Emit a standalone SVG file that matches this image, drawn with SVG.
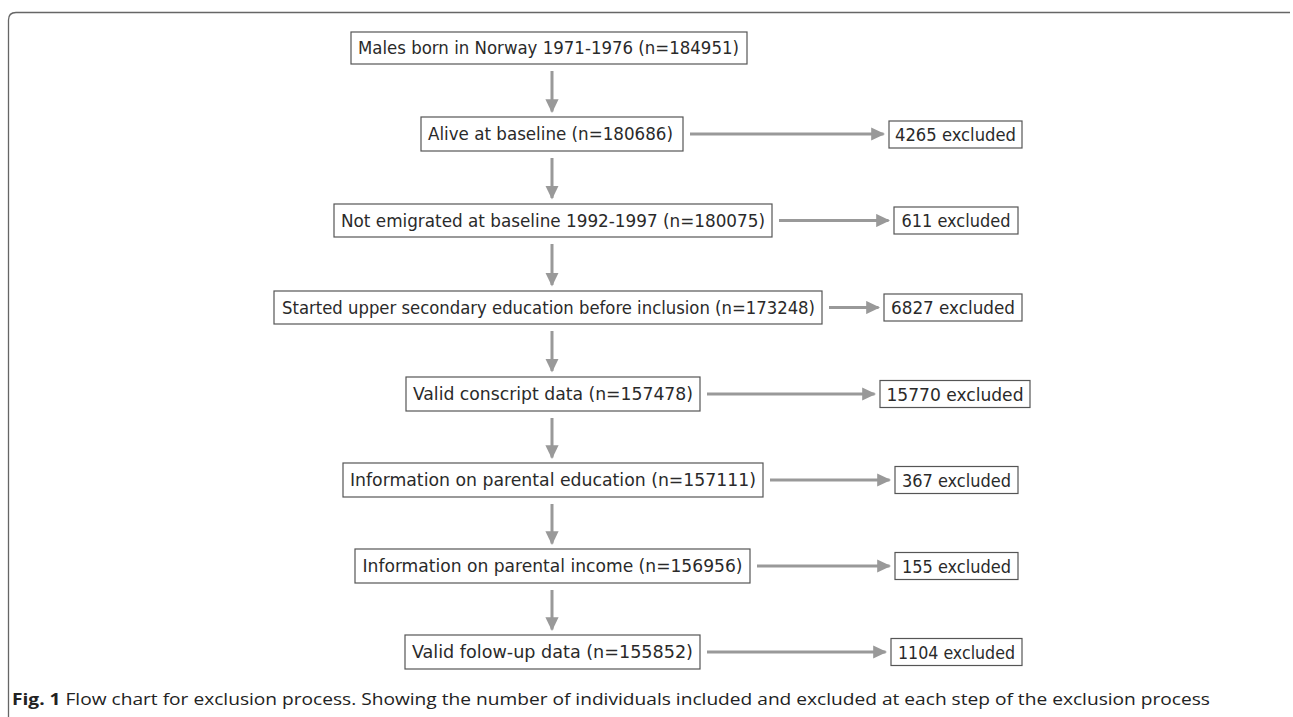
<svg xmlns="http://www.w3.org/2000/svg" width="1293" height="717" viewBox="0 0 1293 717">
<style>
.box{fill:#fff;stroke:#555;stroke-width:1.2}
.t{font-family:"DejaVu Sans","Liberation Sans",sans-serif;font-stretch:condensed;font-size:18.5px;fill:#2a2a2a;text-anchor:middle}
.c{stroke:#999;stroke-width:3;fill:none}
.cap{font-family:"Open Sans","Noto Sans",sans-serif;font-size:16.5px;fill:#222}
</style>
<defs>
<marker id="ah" markerWidth="4.6" markerHeight="4.4" refX="4.1" refY="2.2" orient="auto" markerUnits="strokeWidth"><path d="M0,0 L4.6,2.2 L0,4.4 Z" fill="#999"/></marker>
</defs>
<rect width="1293" height="717" fill="#fff"/>
<path d="M8.5,717 V20 Q8.5,12.5 16,12.5 H1290" fill="none" stroke="#666" stroke-width="1.3"/>
<g id="connectors">
<line class="c" x1="552" y1="71" x2="552" y2="111.5" marker-end="url(#ah)"/>
<line class="c" x1="552" y1="158" x2="552" y2="198" marker-end="url(#ah)"/>
<line class="c" x1="552" y1="244" x2="552" y2="285" marker-end="url(#ah)"/>
<line class="c" x1="552" y1="331" x2="552" y2="371" marker-end="url(#ah)"/>
<line class="c" x1="552" y1="418" x2="552" y2="457.5" marker-end="url(#ah)"/>
<line class="c" x1="552" y1="504" x2="552" y2="543.5" marker-end="url(#ah)"/>
<line class="c" x1="552" y1="590" x2="552" y2="629.5" marker-end="url(#ah)"/>
<line class="c" x1="690" y1="134" x2="883.5" y2="134" marker-end="url(#ah)"/>
<line class="c" x1="779" y1="220.5" x2="888.5" y2="220.5" marker-end="url(#ah)"/>
<line class="c" x1="829" y1="307.5" x2="878.5" y2="307.5" marker-end="url(#ah)"/>
<line class="c" x1="707" y1="394" x2="874.5" y2="394" marker-end="url(#ah)"/>
<line class="c" x1="770" y1="480" x2="889.5" y2="480" marker-end="url(#ah)"/>
<line class="c" x1="757" y1="566" x2="889.5" y2="566" marker-end="url(#ah)"/>
<line class="c" x1="707" y1="652" x2="885.5" y2="652" marker-end="url(#ah)"/>
</g>
<g id="n1"><rect class="box" x="351" y="32" width="396" height="32"/><text class="t" x="548.5" y="54" textLength="381" lengthAdjust="spacingAndGlyphs">Males born in Norway 1971-1976 (n=184951)</text></g>
<g id="n2"><rect class="box" x="421" y="117" width="262" height="34"/><text class="t" x="550.5" y="140" textLength="245" lengthAdjust="spacingAndGlyphs">Alive at baseline (n=180686)</text></g>
<g id="n3"><rect class="box" x="334" y="204" width="438" height="33"/><text class="t" x="553" y="227" textLength="424" lengthAdjust="spacingAndGlyphs">Not emigrated at baseline 1992-1997 (n=180075)</text></g>
<g id="n4"><rect class="box" x="274" y="291" width="548" height="33"/><text class="t" x="548.5" y="314" textLength="533" lengthAdjust="spacingAndGlyphs">Started upper secondary education before inclusion (n=173248)</text></g>
<g id="n5"><rect class="box" x="406" y="377" width="294" height="34"/><text class="t" x="553" y="400" textLength="280" lengthAdjust="spacingAndGlyphs">Valid conscript data (n=157478)</text></g>
<g id="n6"><rect class="box" x="343" y="463" width="420" height="34"/><text class="t" x="553" y="486" textLength="406" lengthAdjust="spacingAndGlyphs">Information on parental education (n=157111)</text></g>
<g id="n7"><rect class="box" x="355" y="549" width="395" height="34"/><text class="t" x="552.5" y="572" textLength="380" lengthAdjust="spacingAndGlyphs">Information on parental income (n=156956)</text></g>
<g id="n8"><rect class="box" x="405" y="635" width="295" height="34"/><text class="t" x="552.5" y="658" textLength="281" lengthAdjust="spacingAndGlyphs">Valid folow-up data (n=155852)</text></g>
<g id="e1"><rect class="box" x="889" y="121" width="133" height="27"/><text class="t" x="955.5" y="141" textLength="121" lengthAdjust="spacingAndGlyphs">4265 excluded</text></g>
<g id="e2"><rect class="box" x="894" y="207" width="124" height="27"/><text class="t" x="956" y="227" textLength="109" lengthAdjust="spacingAndGlyphs">611 excluded</text></g>
<g id="e3"><rect class="box" x="884" y="294" width="138" height="27"/><text class="t" x="953" y="314" textLength="124" lengthAdjust="spacingAndGlyphs">6827 excluded</text></g>
<g id="e4"><rect class="box" x="880" y="380.5" width="150" height="27"/><text class="t" x="955" y="400.5" textLength="137" lengthAdjust="spacingAndGlyphs">15770 excluded</text></g>
<g id="e5"><rect class="box" x="895" y="466.5" width="123" height="27"/><text class="t" x="956.5" y="486.5" textLength="109" lengthAdjust="spacingAndGlyphs">367 excluded</text></g>
<g id="e6"><rect class="box" x="895" y="552.5" width="123" height="27"/><text class="t" x="956.5" y="572.5" textLength="109" lengthAdjust="spacingAndGlyphs">155 excluded</text></g>
<g id="e7"><rect class="box" x="891" y="638.5" width="131" height="27"/><text class="t" x="956.5" y="658.5" textLength="117" lengthAdjust="spacingAndGlyphs">1104 excluded</text></g>
<text class="cap" x="12" y="705" textLength="1198" lengthAdjust="spacingAndGlyphs"><tspan font-weight="bold">Fig. 1</tspan> Flow chart for exclusion process. Showing the number of individuals included and excluded at each step of the exclusion process</text>
</svg>
